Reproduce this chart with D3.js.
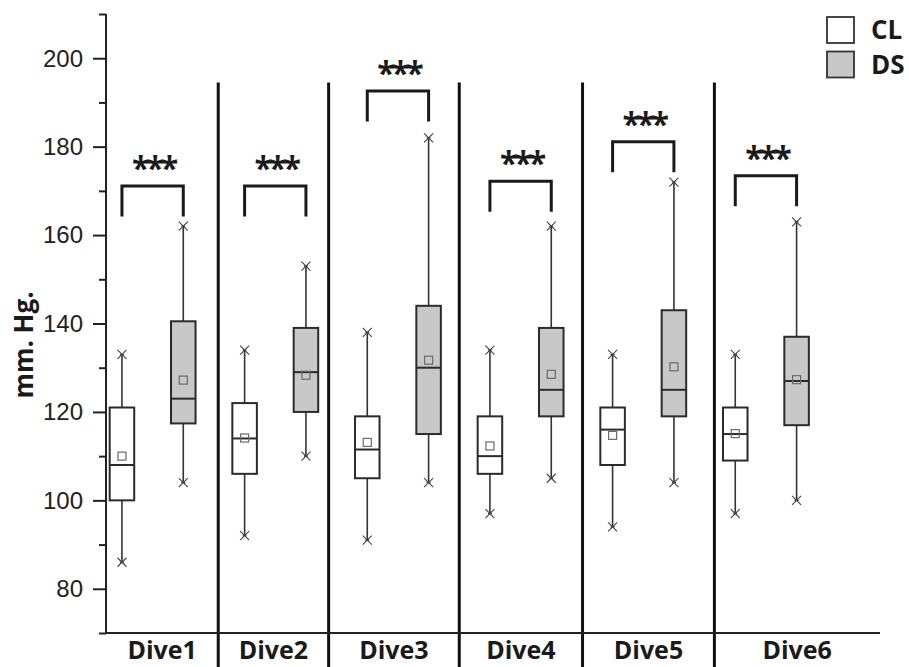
<!DOCTYPE html>
<html lang="en">
<head>
  <meta charset="UTF-8">
  <title>Dive blood pressure</title>
  <script type="text/javascript" src="https://cdn.jsdelivr.net/npm/d3@7"></script>
  <style type="text/css">
  body {
    margin: 0;
    padding: 0;
    background: #fff;
  }
  svg {
    display: block;
  }
  .axis line, .axis path {
    stroke: #222;
  }
  .tickLabel {
    font-family: "Liberation Sans", Arial, sans-serif;
    font-size: 24px;
    fill: #222;
  }
  .boldText {
    font-family: "Open Sans", "Noto Sans", sans-serif;
    font-weight: bold;
    fill: #1a1a1a;
  }
  </style>
</head>
<body>
  <div id="chart"></div>
</body>
<script type="text/javascript">
  var width = 909, height = 667;

  var dives = ['Dive1', 'Dive2', 'Dive3', 'Dive4', 'Dive5', 'Dive6'];
  var groups = ['CL', 'DS'];
  // each row: [whisker low, q1, median, q3, whisker high, mean]
  var clStats = [
    [86, 100, 108, 121, 133, 110],
    [92, 106, 114, 122, 134, 114.1],
    [91, 105, 111.5, 119, 138, 113.1],
    [97, 106, 110, 119, 134, 112.3],
    [94, 108, 116, 121, 133, 114.7],
    [97, 109, 115, 121, 133, 115.1]
  ];
  var dsStats = [
    [104, 117.4, 123, 140.5, 162, 127.2],
    [110, 120, 129, 139, 153, 128.3],
    [104, 115, 130, 144, 182, 131.7],
    [105, 119, 125, 139, 162, 128.5],
    [104, 119, 125, 143, 172, 130.2],
    [100, 117, 127, 137, 163, 127.3]
  ];
  // significance bracket heights (mm Hg)
  var bracketTop = [171.1, 171.1, 192.6, 172.2, 181.1, 173.4];
  var bracketLeg = 6.9;
  var sigLabel = '***';
  // divider positions on the x (box index) scale
  var dividers = [2.57, 4.37, 6.5, 8.51, 10.66];
  var dividerTop = 194.5;
  var yTicks = [80, 100, 120, 140, 160, 180, 200];
  var yMinor = [70, 90, 110, 130, 150, 170, 190, 210];

  var fills = { CL: '#ffffff', DS: '#c8c8c8' };

  var svg = d3.select('#chart')
    .append('svg')
    .attr('width', width)
    .attr('height', height);

  var xScale = d3.scaleLinear()
    .domain([0.74, 13.36])
    .range([106, 880]);

  var yScale = d3.scaleLinear()
    .domain([70, 210])
    .range([633, 14]);

  var boxW = xScale(1.4) - xScale(1);

  // build box rows
  var boxes = [];
  dives.forEach(function(d, i){
    [clStats[i], dsStats[i]].forEach(function(s, j){
      boxes.push({
        dive: d, group: groups[j], pos: i * 2 + j + 1,
        lo: s[0], q1: s[1], med: s[2], q3: s[3], hi: s[4], mean: s[5]
      });
    });
  });

  // dividers between dives
  svg.selectAll('.divider')
    .data(dividers)
    .enter()
    .append('line')
    .attr('class', 'divider')
    .attr('x1', function(d){ return xScale(d); })
    .attr('x2', function(d){ return xScale(d); })
    .attr('y1', yScale(dividerTop))
    .attr('y2', height)
    .attr('stroke', '#111')
    .attr('stroke-width', 3);

  // axes
  var yAxis = d3.axisLeft(yScale).tickValues(yTicks).tickSize(13).tickFormat('');
  var yAxisMinor = d3.axisLeft(yScale).tickValues(yMinor).tickSize(7).tickFormat('');

  svg.append('g')
    .attr('class', 'axis')
    .attr('transform', 'translate(106,0)')
    .call(yAxisMinor)
    .call(function(g){ g.select('.domain').remove(); })
    .selectAll('line').attr('stroke-width', 2);

  var yAxisG = svg.append('g')
    .attr('class', 'axis')
    .attr('transform', 'translate(106,0)')
    .call(yAxis);
  yAxisG.select('.domain').attr('stroke-width', 2).attr('d', 'M0,' + yScale(210) + 'V' + yScale(70));
  yAxisG.selectAll('line').attr('stroke-width', 2);

  svg.selectAll('.tickLabel')
    .data(yTicks)
    .enter()
    .append('text')
    .attr('class', 'tickLabel')
    .attr('x', 83)
    .attr('y', function(d){ return yScale(d); })
    .attr('dy', '0.35em')
    .attr('text-anchor', 'end')
    .text(function(d){ return d; });

  svg.append('line')
    .attr('x1', xScale.range()[0] - 1)
    .attr('x2', xScale.range()[1])
    .attr('y1', yScale(70))
    .attr('y2', yScale(70))
    .attr('stroke', '#222')
    .attr('stroke-width', 2);

  // y label
  svg.append('text')
    .attr('class', 'boldText')
    .attr('transform', 'translate(33,' + 345 + ') rotate(-90)')
    .attr('text-anchor', 'middle')
    .style('font-size', '26px')
    .text('mm. Hg.');

  // dive labels centred between dividers
  var edges = [xScale.domain()[0]].concat(dividers).concat([xScale.domain()[1]]);
  svg.selectAll('.diveLabel')
    .data(dives)
    .enter()
    .append('text')
    .attr('class', 'boldText diveLabel')
    .attr('x', function(d, i){ return (xScale(edges[i]) + xScale(edges[i + 1])) / 2; })
    .attr('y', 659)
    .attr('text-anchor', 'middle')
    .style('font-size', '25px')
    .text(function(d){ return d; });

  // boxes
  var bg = svg.selectAll('.box')
    .data(boxes)
    .enter()
    .append('g')
    .attr('class', 'box')
    .attr('transform', function(d){ return 'translate(' + xScale(d.pos) + ',0)'; });

  bg.append('line')
    .attr('y1', function(d){ return yScale(d.hi); })
    .attr('y2', function(d){ return yScale(d.q3); })
    .attr('stroke', '#333').attr('stroke-width', 1.6);
  bg.append('line')
    .attr('y1', function(d){ return yScale(d.q1); })
    .attr('y2', function(d){ return yScale(d.lo); })
    .attr('stroke', '#333').attr('stroke-width', 1.6);

  bg.append('rect')
    .attr('x', -boxW / 2)
    .attr('width', boxW)
    .attr('y', function(d){ return yScale(d.q3); })
    .attr('height', function(d){ return yScale(d.q1) - yScale(d.q3); })
    .attr('fill', function(d){ return fills[d.group]; })
    .attr('stroke', '#2b2b2b')
    .attr('stroke-width', 2);

  bg.append('line')
    .attr('x1', -boxW / 2)
    .attr('x2', boxW / 2)
    .attr('y1', function(d){ return yScale(d.med); })
    .attr('y2', function(d){ return yScale(d.med); })
    .attr('stroke', '#2b2b2b').attr('stroke-width', 2);

  bg.append('rect')
    .attr('x', -4)
    .attr('width', 8)
    .attr('y', function(d){ return yScale(d.mean) - 4; })
    .attr('height', 8)
    .attr('fill', 'none')
    .attr('stroke', '#6a6a6a')
    .attr('stroke-width', 1.2);

  // star caps at whisker ends
  bg.selectAll('.cap')
    .data(function(d){ return [d.hi, d.lo]; })
    .enter()
    .append('path')
    .attr('class', 'cap')
    .attr('d', function(v){
      var y = yScale(v), s = 4.5;
      return 'M' + (-s) + ',' + (y - s) + 'L' + s + ',' + (y + s) +
        'M' + (-s) + ',' + (y + s) + 'L' + s + ',' + (y - s) +
        'M-2,' + y + 'H2';
    })
    .attr('stroke', '#444')
    .attr('stroke-width', 1.1)
    .attr('fill', 'none');

  // significance brackets
  var sg = svg.selectAll('.sig')
    .data(dives)
    .enter()
    .append('g')
    .attr('class', 'sig');

  sg.append('path')
    .attr('d', function(d, i){
      var x1 = xScale(i * 2 + 1), x2 = xScale(i * 2 + 2);
      var yt = yScale(bracketTop[i]), yb = yScale(bracketTop[i] - bracketLeg);
      return 'M' + x1 + ',' + yb + 'V' + yt + 'H' + x2 + 'V' + yb;
    })
    .attr('fill', 'none')
    .attr('stroke', '#1a1a1a')
    .attr('stroke-width', 3);

  sg.append('text')
    .attr('class', 'boldText')
    .attr('x', function(d, i){ return (xScale(i * 2 + 1) + xScale(i * 2 + 2)) / 2 + 1; })
    .attr('y', function(d, i){ return yScale(bracketTop[i]) - 6; })
    .attr('text-anchor', 'middle')
    .style('font-size', '32px')
    .style('letter-spacing', '-3px')
    .text(sigLabel);

  // legend
  var lg = svg.selectAll('.legend')
    .data(groups)
    .enter()
    .append('g')
    .attr('class', 'legend')
    .attr('transform', function(d, i){ return 'translate(827,' + (17 + i * 34.5) + ')'; });

  lg.append('rect')
    .attr('width', 27)
    .attr('height', 26)
    .attr('fill', function(d){ return fills[d]; })
    .attr('stroke', '#333')
    .attr('stroke-width', 1.8);

  lg.append('text')
    .attr('class', 'boldText')
    .attr('x', 44)
    .attr('y', 22)
    .style('font-size', '26px')
    .text(function(d){ return d; });
</script>
</html>
